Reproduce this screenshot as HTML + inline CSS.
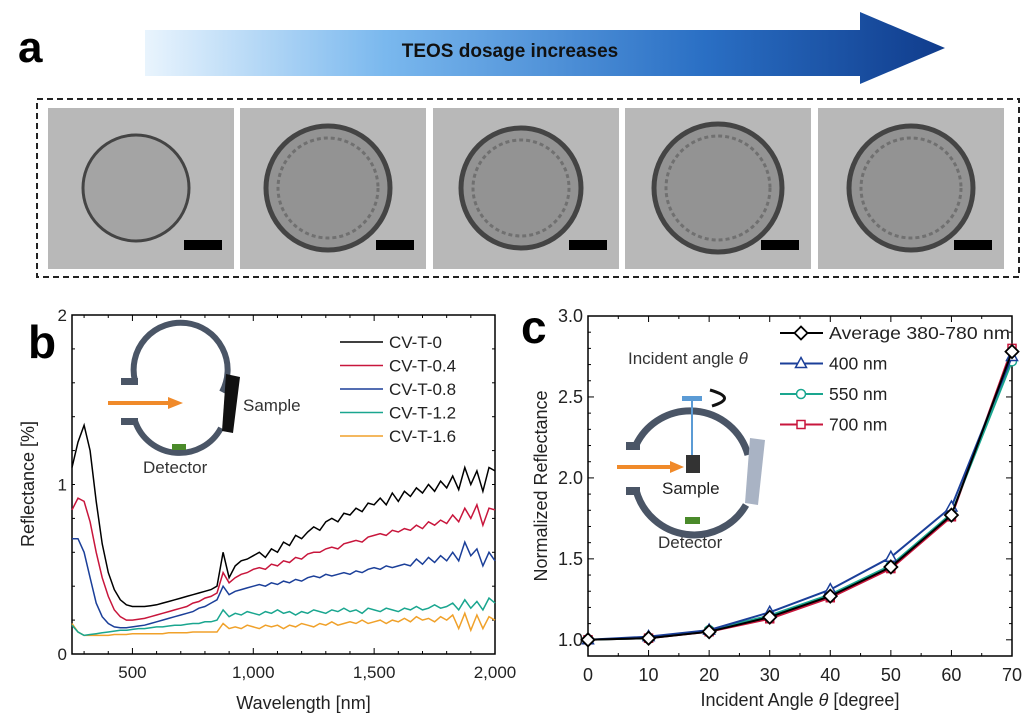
<!DOCTYPE html>
<html><head><meta charset="utf-8"><style>
body{margin:0;background:#fff;font-family:"Liberation Sans",sans-serif;}
svg text{font-family:"Liberation Sans",sans-serif;}
</style></head><body>
<svg id="fig" width="1024" height="715" viewBox="0 0 1024 715" xmlns="http://www.w3.org/2000/svg">
<defs>
<linearGradient id="ag" x1="0" x2="1" y1="0" y2="0"><stop offset="0" stop-color="#e9f4fd"/><stop offset="0.3" stop-color="#7ab8ee"/><stop offset="0.7" stop-color="#2a6fc4"/><stop offset="1" stop-color="#103c8c"/></linearGradient>
</defs>
<text x="18" y="62" font-size="44" font-weight="bold">a</text>
<polygon points="145,30 860,30 860,12 945,48 860,84 860,76 145,76" fill="url(#ag)"/>
<text x="510" y="57" font-size="19" font-weight="bold" text-anchor="middle" fill="#111">TEOS dosage increases</text>
<rect x="37" y="99" width="982" height="178" fill="none" stroke="#222" stroke-width="2" stroke-dasharray="6,4"/>
<g id="tems"></g>
<text x="28" y="358" font-size="46" font-weight="bold">b</text>
<text x="521" y="343" font-size="46" font-weight="bold">c</text>
<g id="pb"></g><g id="pc"></g>
</svg>
<script>
// ---- Panel b data ----
const wl=[250,275,300,325,350,375,400,425,450,475,500,525,550,575,600,625,650,675,700,725,750,775,800,825,850,875,900,925,950,975,1000,1025,1050,1075,1100,1125,1150,1175,1200,1225,1250,1275,1300,1325,1350,1375,1400,1425,1450,1475,1500,1525,1550,1575,1600,1625,1650,1675,1700,1725,1750,1775,1800,1825,1850,1875,1900,1925,1950,1975,2000];
const cvt0=[1.1,1.25,1.35,1.2,0.9,0.65,0.48,0.38,0.32,0.29,0.28,0.28,0.28,0.285,0.29,0.3,0.31,0.32,0.33,0.34,0.35,0.36,0.37,0.38,0.4,0.6,0.45,0.52,0.55,0.56,0.58,0.6,0.57,0.62,0.6,0.66,0.64,0.7,0.68,0.72,0.75,0.73,0.78,0.8,0.78,0.83,0.82,0.86,0.84,0.89,0.88,0.92,0.88,0.95,0.9,0.96,0.93,0.98,0.95,1.0,0.96,1.02,0.98,1.05,0.97,1.1,1.0,1.08,0.96,1.1,1.08];
const cvt04=[0.85,0.92,0.9,0.78,0.6,0.45,0.34,0.26,0.22,0.2,0.2,0.205,0.21,0.22,0.23,0.24,0.25,0.26,0.27,0.28,0.3,0.31,0.33,0.34,0.36,0.48,0.42,0.45,0.47,0.48,0.5,0.51,0.5,0.53,0.52,0.55,0.54,0.57,0.56,0.59,0.6,0.6,0.62,0.63,0.62,0.65,0.66,0.67,0.66,0.69,0.7,0.71,0.7,0.73,0.72,0.74,0.73,0.76,0.74,0.78,0.76,0.79,0.77,0.82,0.78,0.86,0.8,0.88,0.76,0.86,0.85];
const cvt08=[0.68,0.68,0.6,0.45,0.3,0.22,0.18,0.16,0.155,0.155,0.16,0.165,0.17,0.18,0.19,0.2,0.21,0.22,0.23,0.24,0.25,0.27,0.28,0.3,0.32,0.4,0.35,0.37,0.38,0.39,0.4,0.41,0.4,0.42,0.41,0.43,0.42,0.44,0.43,0.45,0.46,0.45,0.47,0.46,0.47,0.48,0.47,0.49,0.48,0.5,0.51,0.5,0.52,0.51,0.52,0.53,0.52,0.56,0.53,0.57,0.54,0.58,0.55,0.6,0.55,0.66,0.58,0.62,0.52,0.6,0.55];
const cvt12=[0.17,0.13,0.11,0.115,0.12,0.125,0.13,0.135,0.14,0.14,0.145,0.15,0.15,0.155,0.16,0.16,0.165,0.17,0.17,0.175,0.18,0.18,0.19,0.19,0.2,0.26,0.22,0.24,0.23,0.25,0.24,0.23,0.25,0.24,0.26,0.24,0.25,0.23,0.25,0.24,0.26,0.25,0.24,0.26,0.25,0.27,0.25,0.26,0.24,0.27,0.26,0.25,0.27,0.26,0.25,0.27,0.26,0.28,0.26,0.27,0.29,0.27,0.28,0.3,0.26,0.32,0.27,0.31,0.26,0.33,0.3];
const cvt16=[0.18,0.13,0.11,0.11,0.11,0.11,0.11,0.115,0.115,0.115,0.12,0.12,0.12,0.12,0.12,0.12,0.125,0.125,0.125,0.125,0.13,0.13,0.13,0.13,0.13,0.18,0.15,0.16,0.15,0.17,0.16,0.15,0.17,0.16,0.17,0.15,0.17,0.16,0.18,0.17,0.16,0.18,0.17,0.19,0.17,0.18,0.19,0.18,0.2,0.18,0.19,0.2,0.18,0.2,0.19,0.21,0.19,0.22,0.2,0.21,0.19,0.22,0.2,0.23,0.15,0.24,0.14,0.23,0.15,0.22,0.2];
const bNames=["CV-T-0","CV-T-0.4","CV-T-0.8","CV-T-1.2","CV-T-1.6"];
const bXTicks=[500,1000,1500,2000];
const bXLabels=["500","1,000","1,500","2,000"];
const bYTicks=[0,1,2];
// ---- Panel c data ----
const angles=[0,10,20,30,40,50,60,70];
const avgR=[1.0,1.01,1.05,1.14,1.27,1.45,1.77,2.78];
const r400=[1.0,1.02,1.06,1.17,1.31,1.51,1.82,2.75];
const r550=[1.0,1.01,1.06,1.15,1.28,1.46,1.78,2.72];
const r700=[1.0,1.01,1.05,1.13,1.26,1.44,1.76,2.8];
const cNames=["Average 380-780 nm","400 nm","550 nm","700 nm"];
const cYTicks=[1.0,1.5,2.0,2.5,3.0];
const cXTicks=[0,10,20,30,40,50,60,70];

const NS="http://www.w3.org/2000/svg";
function mk(parent,tag,attrs){const e=document.createElementNS(NS,tag);for(const k in attrs)e.setAttribute(k,attrs[k]);parent.appendChild(e);return e;}

// TEM images
const tg=document.getElementById('tems');
const tx=[48,240,433,625,818];
tx.forEach((x,i)=>{
  const g=mk(tg,'g',{});
  
  
  mk(g,'rect',{x:x,y:108,width:186,height:161,fill:'#b8b8b8'});
  const r=[53,62,60,64,62][i];
  const ccx=x+88+(i>2?5:0);
  mk(g,'circle',{cx:ccx,cy:188,r:r,fill:i==0?'#a4a4a4':'#939393',stroke:'#444','stroke-width':i==0?3:5});
  if(i>0)mk(g,'circle',{cx:ccx,cy:188,r:r-12,fill:'none',stroke:'#707070','stroke-width':3,'stroke-dasharray':'4,3'});
  const sb=mk(g,'rect',{x:x+136,y:240,width:38,height:10,fill:'#000'});
  
  
});

// Panel b
const pb=document.getElementById('pb');
const bL=72,bR=495,bT=315,bB=654;
const bx=v=>bL+(v-250)/(2000-250)*(bR-bL);
const by=v=>bB-v/2*(bB-bT);
const frameB=mk(pb,'rect',{x:bL,y:bT,width:bR-bL,height:bB-bT,fill:'none',stroke:'#000','stroke-width':1.5});


for(let v=300;v<=2000;v+=100){const x=bx(v);const len=v%500==0?6:3;mk(pb,'line',{x1:x,x2:x,y1:bB,y2:bB-len,stroke:'#000'});mk(pb,'line',{x1:x,x2:x,y1:bT,y2:bT+len,stroke:'#000'});}
for(let v=0;v<=2;v+=0.2){const y=by(v);mk(pb,'line',{x1:bL,x2:bL+3,y1:y,y2:y,stroke:'#000'});mk(pb,'line',{x1:bR,x2:bR-3,y1:y,y2:y,stroke:'#000'});}
bXTicks.forEach((v,i)=>{const t=mk(pb,'text',{x:bx(v),y:bB+24,'font-size':17,'text-anchor':'middle',fill:'#222'});t.textContent=bXLabels[i];

});
bYTicks.forEach(v=>{const t=mk(pb,'text',{x:bL-5,y:by(v)+6,'font-size':17,'text-anchor':'end',fill:'#222'});t.textContent=v;

});
let t=mk(pb,'text',{x:(bL+bR)/2+20,y:bB+55,'font-size':18,'text-anchor':'middle',fill:'#222'});t.textContent='Wavelength [nm]';


t=mk(pb,'text',{x:0,y:0,'font-size':18,'text-anchor':'middle',fill:'#222',transform:'translate(34,484) rotate(-90)'});t.textContent='Reflectance [%]';


// inset b
const ib=mk(pb,'g',{});


mk(ib,'path',{d:'M135,381 A47,47 0 1 1 222,392',fill:'none',stroke:'#4a5566','stroke-width':6});
mk(ib,'path',{d:'M135,421 A47,47 0 0 0 221,428',fill:'none',stroke:'#4a5566','stroke-width':6});
mk(ib,'rect',{x:121,y:378,width:17,height:7,fill:'#4a5566'});
mk(ib,'rect',{x:121,y:418,width:17,height:7,fill:'#4a5566'});
mk(ib,'rect',{x:172,y:444,width:14,height:6,fill:'#4a8a2a'});
mk(ib,'polygon',{points:'226,374 240,377 233,433 222,431',fill:'#111'});
mk(ib,'line',{x1:108,y1:403,x2:170,y2:403,stroke:'#f08a2a','stroke-width':4});
mk(ib,'polygon',{points:'168,397 183,403 168,409',fill:'#f08a2a'});
t=mk(ib,'text',{x:243,y:411,'font-size':17,fill:'#333'});t.textContent='Sample';
t=mk(ib,'text',{x:143,y:473,'font-size':17,fill:'#333'});t.textContent='Detector';
const bSeries=[cvt0,cvt04,cvt08,cvt12,cvt16];
const bColors=['#000','#c8163c','#1b3f99','#1aa68f','#f0a12a'];
bSeries.slice().reverse().forEach((s,ri)=>{const i=4-ri;
 const d=s.map((v,k)=>(k?'L':'M')+bx(wl[k]).toFixed(1)+','+by(v).toFixed(1)).join('');
 const p=mk(pb,'path',{d:d,fill:'none',stroke:bColors[i],'stroke-width':1.5});
 
 
});
bNames.forEach((n,i)=>{const y=342+i*23.5;const g=mk(pb,'g',{});
 
 
 mk(g,'line',{x1:340,x2:383,y1:y,y2:y,stroke:bColors[i],'stroke-width':1.5});
 const tt=mk(g,'text',{x:389,y:y+6,'font-size':17,fill:'#222'});tt.textContent=n;});

// Panel c
const pc=document.getElementById('pc');
const cL=588,cR=1012,cT=316,cB=656;
const cx=v=>cL+v/70*(cR-cL);
const cy=v=>cB-(v-0.9)/2.1*(cB-cT);
const frameC=mk(pc,'rect',{x:cL,y:cT,width:cR-cL,height:cB-cT,fill:'none',stroke:'#000','stroke-width':1.5});


for(let v=0;v<=70;v+=5){const x=cx(v);const len=v%10==0?6:3;mk(pc,'line',{x1:x,x2:x,y1:cB,y2:cB-len,stroke:'#000'});mk(pc,'line',{x1:x,x2:x,y1:cT,y2:cT+len,stroke:'#000'});}
for(let v=1.0;v<=3.0001;v+=0.1){const y=cy(v);const len=Math.abs(v*2-Math.round(v*2))<0.01?6:3;mk(pc,'line',{x1:cL,x2:cL+len,y1:y,y2:y,stroke:'#000'});mk(pc,'line',{x1:cR,x2:cR-len,y1:y,y2:y,stroke:'#000'});}
cXTicks.forEach(v=>{const tt=mk(pc,'text',{x:cx(v),y:cB+25,'font-size':18,'text-anchor':'middle',fill:'#222'});tt.textContent=v;

});
cYTicks.forEach(v=>{const tt=mk(pc,'text',{x:cL-5,y:cy(v)+6,'font-size':18,'text-anchor':'end',fill:'#222'});tt.textContent=v.toFixed(1);

});
t=mk(pc,'text',{x:(cL+cR)/2,y:cB+50,'font-size':18,'text-anchor':'middle',fill:'#222'});t.innerHTML='Incident Angle <tspan font-style="italic">θ</tspan>  [degree]';


t=mk(pc,'text',{x:0,y:0,'font-size':18,'text-anchor':'middle',fill:'#222',transform:'translate(547,486) rotate(-90)'});t.textContent='Normalized Reflectance';


// inset c
const ic=mk(pc,'g',{});


t=mk(ic,'text',{x:628,y:364,'font-size':17,fill:'#333'});t.innerHTML='Incident angle <tspan font-style="italic">θ</tspan>';
mk(ic,'path',{d:'M636,445 A60,60 0 0 1 748,455',fill:'none',stroke:'#4a5566','stroke-width':7});
mk(ic,'path',{d:'M636,490 A60,60 0 0 0 746,505',fill:'none',stroke:'#4a5566','stroke-width':7});
mk(ic,'rect',{x:626,y:442,width:14,height:8,fill:'#4a5566'});
mk(ic,'rect',{x:626,y:487,width:14,height:8,fill:'#4a5566'});
mk(ic,'rect',{x:685,y:517,width:15,height:7,fill:'#4a8a2a'});
mk(ic,'polygon',{points:'750,438 765,440 758,505 745,503',fill:'#a9b3c4'});
mk(ic,'rect',{x:682,y:396,width:20,height:5,fill:'#5b9bd5'});
mk(ic,'line',{x1:692,y1:401,x2:692,y2:456,stroke:'#5b9bd5','stroke-width':2});
mk(ic,'path',{d:'M710,390 Q738,398 712,406',fill:'none',stroke:'#111','stroke-width':3});
mk(ic,'rect',{x:686,y:455,width:14,height:18,fill:'#333'});
mk(ic,'line',{x1:617,y1:467,x2:672,y2:467,stroke:'#f08a2a','stroke-width':4});
mk(ic,'polygon',{points:'670,461 684,467 670,473',fill:'#f08a2a'});
t=mk(ic,'text',{x:662,y:494,'font-size':17,fill:'#222'});t.textContent='Sample';
t=mk(ic,'text',{x:658,y:548,'font-size':17,fill:'#333'});t.textContent='Detector';
const cSeries=[r700,r550,r400,avgR];
const cColors=['#c8163c','#1aa68f','#1b3f99','#000'];
const cMarks=['sq','ci','tr','di'];
const cNm=['700-nm','550-nm','400-nm','average'];
function marker(g,m,x,y,col){
 if(m=='sq')return mk(g,'rect',{x:x-4,y:y-4,width:8,height:8,fill:'#fff',stroke:col,'stroke-width':1.5});
 if(m=='ci')return mk(g,'circle',{cx:x,cy:y,r:4.5,fill:'#fff',stroke:col,'stroke-width':1.5});
 if(m=='tr')return mk(g,'polygon',{points:`${x},${y-6} ${x+5.5},${y+4} ${x-5.5},${y+4}`,fill:'#fff',stroke:col,'stroke-width':1.5});
 return mk(g,'polygon',{points:`${x},${y-6.5} ${x+6.5},${y} ${x},${y+6.5} ${x-6.5},${y}`,fill:'#fff',stroke:col,'stroke-width':1.8});
}
cSeries.forEach((s,i)=>{const g=mk(pc,'g',{});
 
 
 mk(g,'path',{d:s.map((v,k)=>(k?'L':'M')+cx(angles[k]).toFixed(1)+','+cy(v).toFixed(1)).join(''),fill:'none',stroke:cColors[i],'stroke-width':2});
 s.forEach((v,k)=>{const m=marker(g,cMarks[i],cx(angles[k]),cy(v),cColors[i]);
  
  });
});
const lc=['#000','#1b3f99','#1aa68f','#c8163c'];const lm=['di','tr','ci','sq'];
cNames.forEach((n,i)=>{const y=333+i*30.5;const g=mk(pc,'g',{});
 
 
 mk(g,'line',{x1:780,x2:823,y1:y,y2:y,stroke:lc[i],'stroke-width':2});
 marker(g,lm[i],801,y,lc[i]);
 const attrs={x:829,y:y+6,'font-size':17.5,fill:'#222'};
 if(i==0){attrs.textLength=181;attrs.lengthAdjust='spacingAndGlyphs';}
 const tt=mk(g,'text',attrs);tt.textContent=n;});
</script>
</body></html>
